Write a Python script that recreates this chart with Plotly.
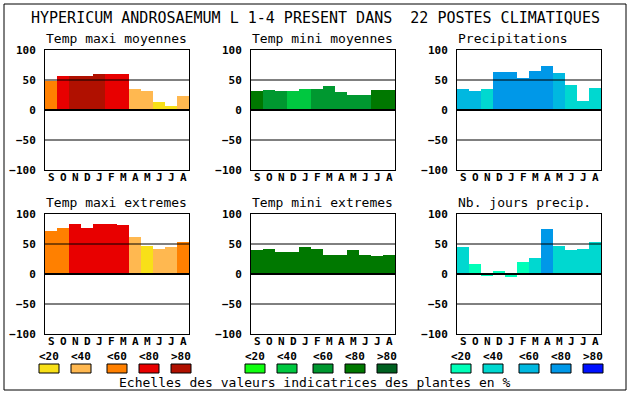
import plotly.graph_objects as go

# ---------------- data ----------------
months = ["S", "O", "N", "D", "J", "F", "M", "A", "M", "J", "J", "A"]
main_title = "HYPERICUM ANDROSAEMUM L 1-4 PRESENT DANS  22 POSTES CLIMATIQUES"
panel_titles = ["Temp maxi moyennes", "Temp mini moyennes", "Precipitations",
                "Temp maxi extremes", "Temp mini extremes", "Nb. jours precip."]

tmax_moy = [49, 57, 57, 57, 60, 60, 60, 35, 32, 13, 7, 23]
tmax_moy_cls = [2, 3, 4, 4, 4, 3, 3, 1, 1, 0, 0, 1]
tmin_moy = [32, 33, 32, 32, 35, 35, 40, 30, 25, 25, 33, 33]
tmin_moy_cls = [3, 2, 2, 1, 1, 2, 2, 2, 2, 2, 3, 3]
precip = [35, 32, 35, 63, 63, 53, 65, 73, 62, 42, 15, 37]
precip_cls = [2, 2, 1, 3, 3, 3, 3, 3, 2, 1, 1, 1]
tmax_ext = [72, 77, 83, 77, 83, 83, 82, 62, 47, 42, 45, 53]
tmax_ext_cls = [2, 2, 3, 3, 3, 3, 3, 1, 0, 1, 1, 2]
tmin_ext = [40, 42, 37, 37, 45, 42, 32, 32, 40, 32, 30, 32]
tmin_ext_cls = [3, 3, 3, 3, 3, 3, 3, 3, 3, 3, 3, 3]
nb_jours = [45, 17, -3, 5, -5, 20, 27, 75, 47, 40, 42, 53]
nb_jours_cls = [1, 0, 0, 0, 0, 0, 1, 3, 1, 1, 1, 1]

y_ticks = [-100, -50, 0, 50, 100]
ref_lines = [-50, 0, 50]
scale_labels = ["<20", "<40", "<60", "<80", ">80"]
footer = "Echelles des valeurs indicatrices des plantes en %"

# ---------------- styles ----------------
PAL_TMAX = ["#F8E018", "#FFB850", "#FF8000", "#E80000", "#B01000"]
PAL_TMIN = ["#10FF10", "#00C840", "#009830", "#007800", "#006020"]
PAL_PREC = ["#00FFB8", "#00D8D0", "#00B8E0", "#0098E8", "#0010FF"]
FONT = "DejaVu Sans Mono"
W, H = 630, 394


def px(x):
    return x / W


def py(y):
    return 1 - y / H


panels = [
    (tmax_moy, tmax_moy_cls, PAL_TMAX),
    (tmin_moy, tmin_moy_cls, PAL_TMIN),
    (precip, precip_cls, PAL_PREC),
    (tmax_ext, tmax_ext_cls, PAL_TMAX),
    (tmin_ext, tmin_ext_cls, PAL_TMIN),
    (nb_jours, nb_jours_cls, PAL_PREC),
]
lefts = [45, 251, 457]
tops = [50, 214]
PW, PH = 144, 120

fig = go.Figure()
shapes = []
annotations = []
layout = {}

for i, (vals, cls, pal) in enumerate(panels):
    n = i + 1
    sx = "" if n == 1 else str(n)
    left = lefts[i % 3]
    top = tops[i // 3]
    fig.add_trace(go.Bar(
        x=list(range(len(months))), y=vals,
        marker=dict(color=[pal[c] for c in cls], line=dict(width=0)),
        width=1.0, xaxis="x" + sx, yaxis="y" + sx, showlegend=False,
        hoverinfo="skip"))
    layout["xaxis" + sx] = dict(
        domain=[px(left), px(left + PW)], anchor="y" + sx, automargin=False,
        range=[-0.5, len(months) - 0.5], showticklabels=False,
        showgrid=False, zeroline=False, ticks="",
        showline=True, mirror=True, linecolor="black", linewidth=1,
        fixedrange=True)
    layout["yaxis" + sx] = dict(
        domain=[py(top + PH), py(top)], anchor="x" + sx, automargin=False,
        range=[-100, 100], tickmode="array", tickvals=y_ticks,
        showgrid=False, zeroline=False, ticks="", ticklabelstandoff=6,
        showline=True, mirror=True, linecolor="black", linewidth=1,
        tickfont=dict(family=FONT, size=11, color="black", weight="bold"),
        fixedrange=True)
    for v in ref_lines:
        shapes.append(dict(type="line", xref="x" + sx + " domain", yref="y" + sx,
                           x0=0, x1=1, y0=v, y1=v, layer="above",
                           line=dict(color="black", width=2 if v == 0 else 1)))
    # month labels under each bar (positioned through the x axis)
    for m, lab in enumerate(months):
        annotations.append(dict(text=lab, xref="x" + sx, yref="paper",
                                x=m, y=py(top + PH + 7.5), xanchor="center", yanchor="middle",
                                showarrow=False, borderpad=0,
                                font=dict(family=FONT, size=11, color="black", weight="bold")))
    annotations.append(dict(text=panel_titles[i], xref="paper", yref="paper",
                            x=px(left), y=py(top - 3), xanchor="left", yanchor="bottom",
                            showarrow=False, borderpad=0,
                            font=dict(family=FONT, size=13, color="black")))

# main title
annotations.append(dict(text=main_title, xref="paper", yref="paper",
                        x=px(315), y=py(18), xanchor="center", yanchor="middle",
                        showarrow=False, borderpad=0,
                        font=dict(family=FONT, size=15, color="black")))

# colour scales legend
group_starts = [39, 245, 451]
swatch_offsets = [0, 32, 68, 100, 132]
for g, pal in zip(group_starts, [PAL_TMAX, PAL_TMIN, PAL_PREC]):
    for k, (off, col) in enumerate(zip(swatch_offsets, pal)):
        x0 = g + off
        shapes.append(dict(type="rect", xref="paper", yref="paper",
                           x0=px(x0), x1=px(x0 + 20), y0=py(373), y1=py(364),
                           fillcolor=col, line=dict(color="black", width=1)))
        annotations.append(dict(text=scale_labels[k], xref="paper", yref="paper",
                                x=px(x0 + 10), y=py(356), xanchor="center", yanchor="middle",
                                showarrow=False, borderpad=0,
                                font=dict(family=FONT, size=11, color="black", weight="bold")))

annotations.append(dict(text=footer, xref="paper", yref="paper",
                        x=px(315), y=py(382), xanchor="center", yanchor="middle",
                        showarrow=False, borderpad=0,
                        font=dict(family=FONT, size=13, color="black")))

# outer frame
shapes.append(dict(type="rect", xref="paper", yref="paper",
                   x0=px(4), x1=px(626), y0=py(390), y1=py(4),
                   line=dict(color="black", width=1), fillcolor="rgba(0,0,0,0)"))

fig.update_layout(
    template="none",
    width=W, height=H, margin=dict(l=0, r=0, t=0, b=0, pad=0), autosize=False,
    paper_bgcolor="white", plot_bgcolor="white",
    bargap=0, shapes=shapes, annotations=annotations, **layout)

fig.write_html("out.html", config={"displayModeBar": False},
               post_script="document.body.style.margin='0px';document.body.style.overflow='hidden';")
